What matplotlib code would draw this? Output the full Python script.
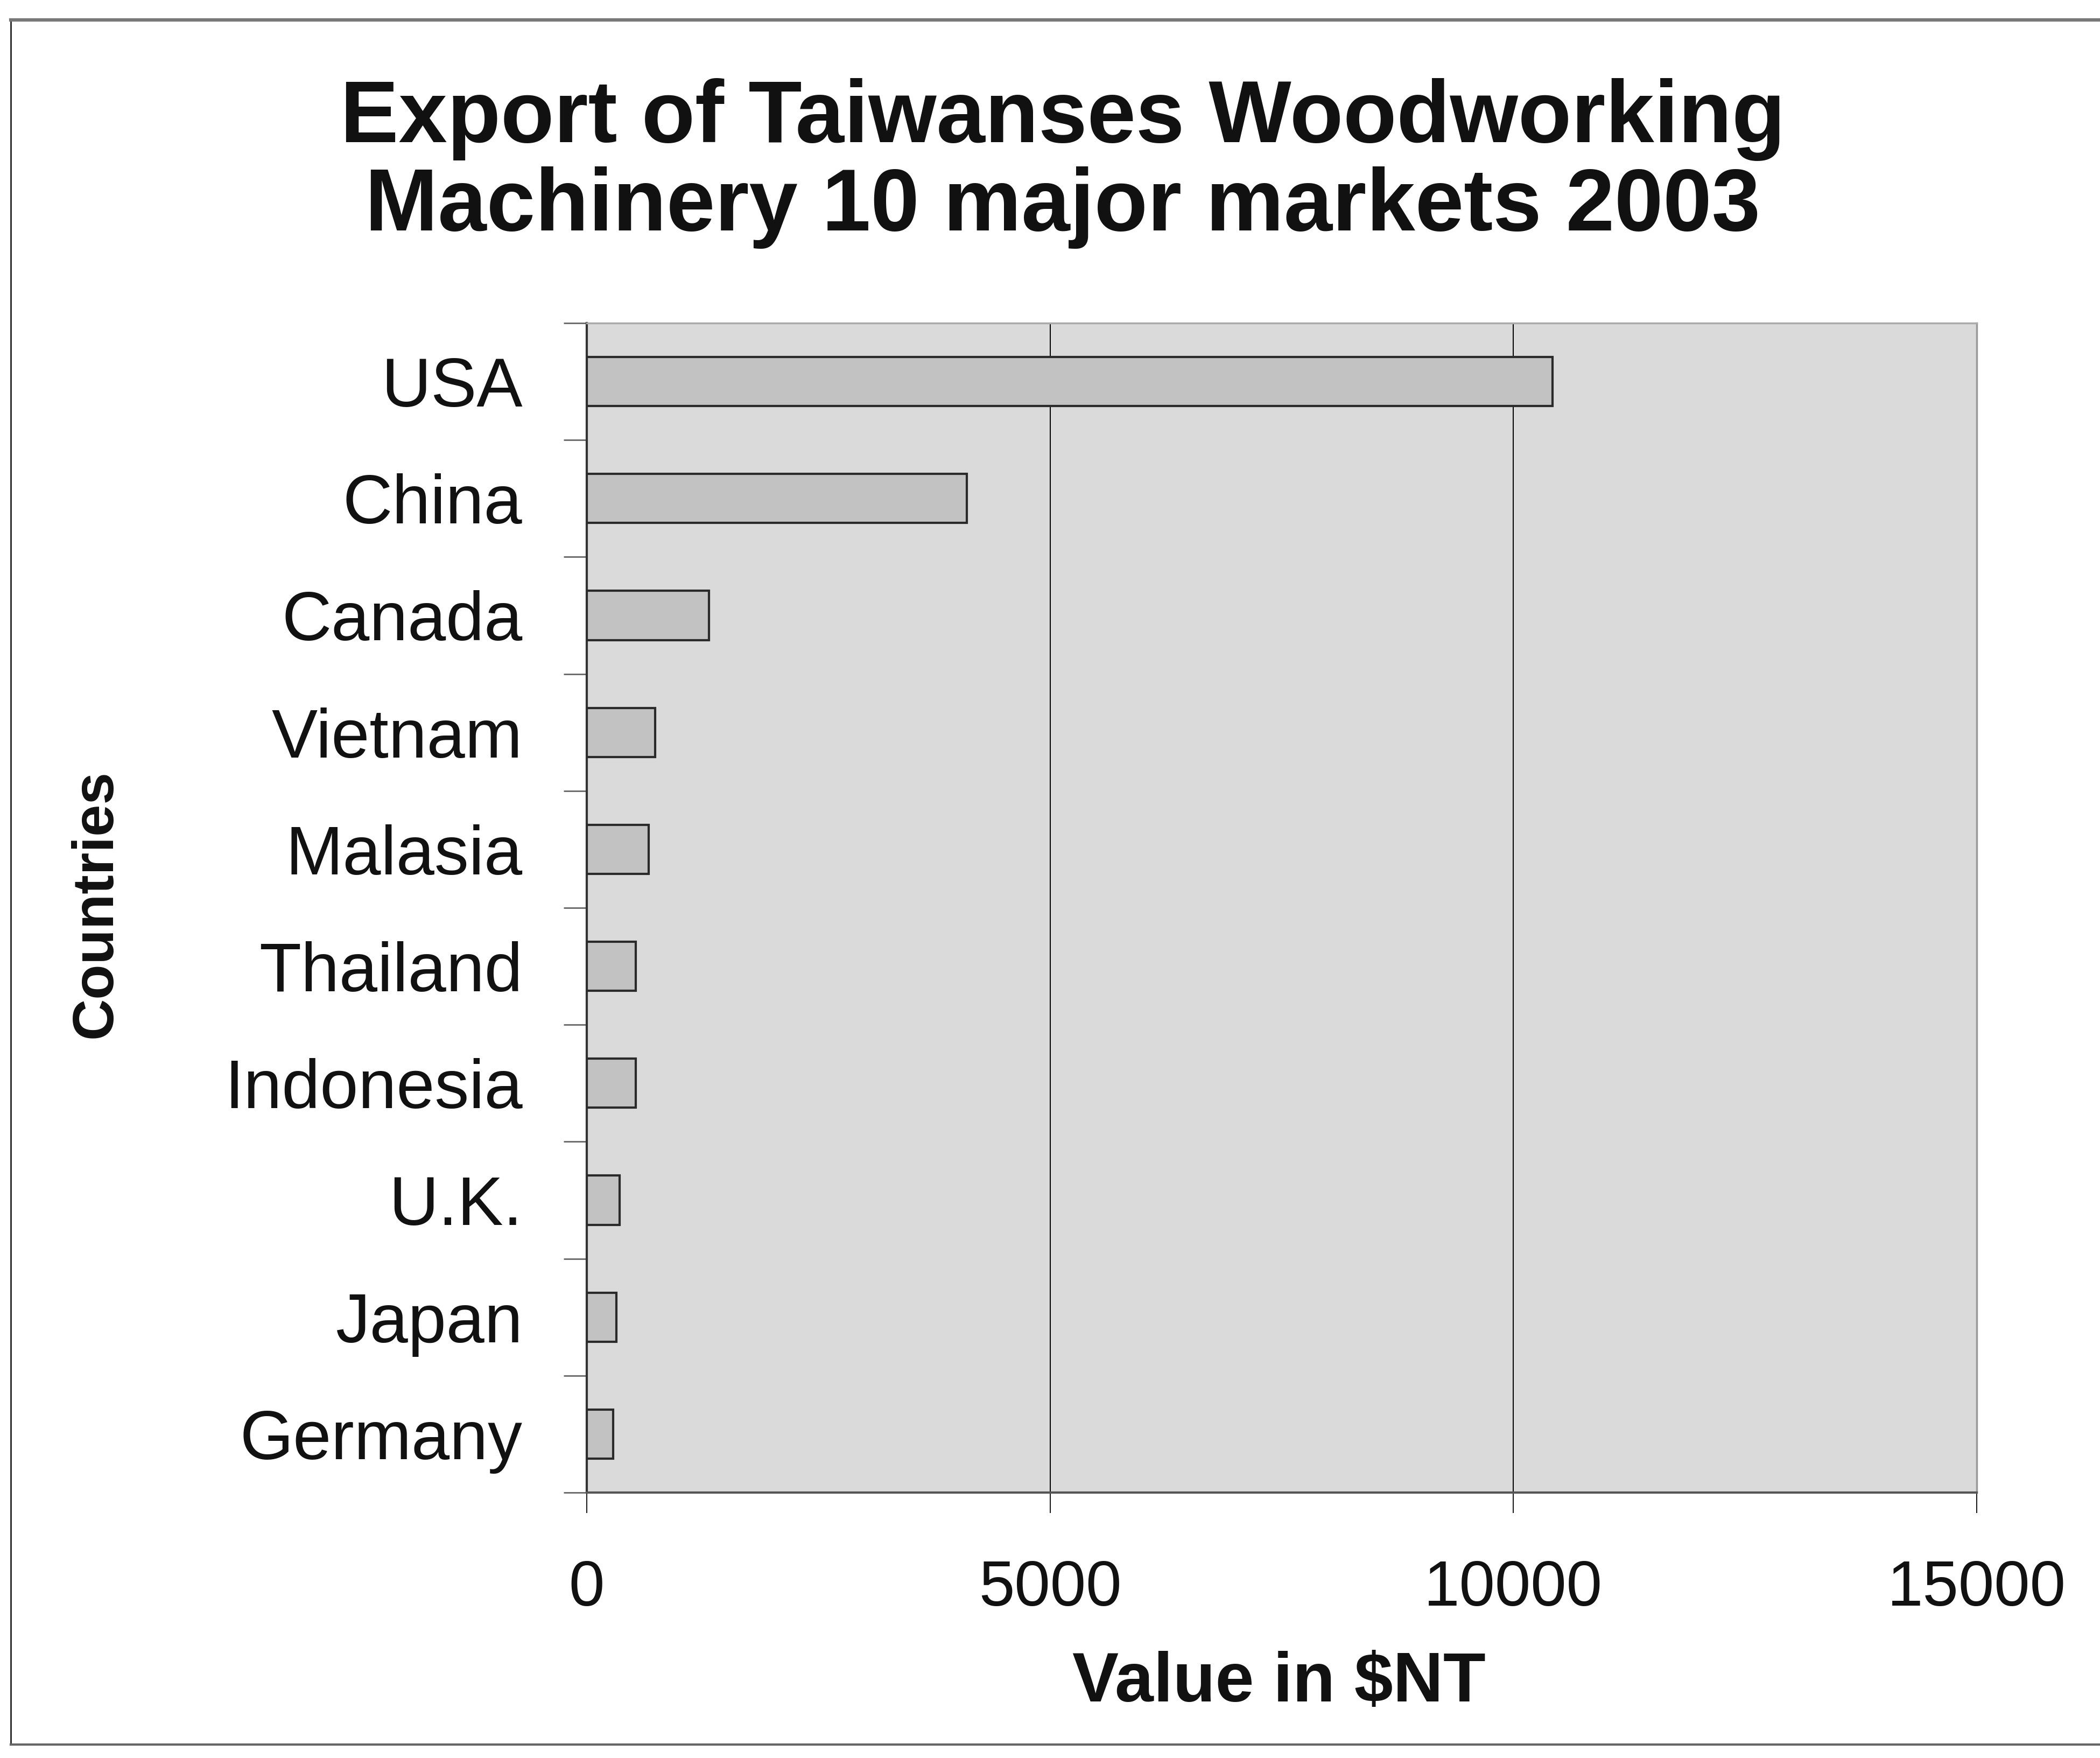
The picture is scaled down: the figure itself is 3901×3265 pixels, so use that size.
import matplotlib
matplotlib.use("Agg")
import matplotlib.pyplot as plt
from matplotlib.lines import Line2D
import numpy as np

countries = ["USA", "China", "Canada", "Vietnam", "Malasia", "Thailand",
             "Indonesia", "U.K.", "Japan", "Germany"]
values = [10420, 4100, 1320, 737, 668, 529, 529, 355, 320, 287]
xticks = [0, 5000, 10000, 15000]
xtick_labels = ["0", "5000", "10000", "15000"]
title_lines = ["Export of Taiwanses Woodworking", "Machinery 10 major markets 2003"]
xlabel = "Value in $NT"
ylabel = "Countries"

plt.rcParams['font.family'] = ['Liberation Sans', 'DejaVu Sans']

W, H = 3901, 3265
fig = plt.figure(figsize=(W / 100, H / 100), dpi=100, facecolor="white")

ax_l, ax_r = 1090 / W, 3672 / W
ax_t, ax_b = 1 - 600 / H, 1 - 2772 / H
ax = fig.add_axes([ax_l, ax_b, ax_r - ax_l, ax_t - ax_b])
ax.set_facecolor("#dadada")

ypos = np.arange(len(countries))
ax.barh(ypos, values, height=0.42, color="#c2c2c2", edgecolor="#2a2a2a",
        linewidth=3.0, zorder=3)

ax.set_xlim(0, 15000)
ax.set_ylim(len(countries) - 0.5, -0.5)

ax.set_xticks(xticks)
ax.set_xticklabels(xtick_labels)
ax.xaxis.grid(True, color="black", linewidth=1.4, zorder=1)
ax.set_axisbelow(True)
ax.tick_params(axis="x", direction="out", length=27, width=1.3, color="black",
               pad=62, labelsize=86, labelcolor="#111111")

ax.set_yticks(ypos)
ax.set_yticklabels(countries)
ax.set_yticks(np.arange(-0.5, len(countries) + 0.5, 1), minor=True)
ax.tick_params(axis="y", which="major", length=0, pad=86, labelsize=92,
               labelcolor="#111111")
ax.tick_params(axis="y", which="minor", direction="out", length=31, width=2.0,
               color="#666666")

ax.spines["left"].set_color("#333333")
ax.spines["left"].set_linewidth(3.0)
ax.spines["bottom"].set_color("#555555")
ax.spines["bottom"].set_linewidth(3.0)
ax.spines["top"].set_color("#aaaaaa")
ax.spines["top"].set_linewidth(2.5)
ax.spines["right"].set_color("#999999")
ax.spines["right"].set_linewidth(2.5)

# Title (two lines)
fig.text(0.506, 1 - 264 / H, title_lines[0], ha="center", va="baseline",
         fontsize=117, fontweight="bold", color="#111111")
fig.text(0.506, 1 - 428 / H, title_lines[1], ha="center", va="baseline",
         fontsize=117, fontweight="bold", color="#111111")

# Axis labels
fig.text(2376 / W, 1 - 3160 / H, xlabel, ha="center", va="baseline",
         fontsize=93, fontweight="bold", color="#111111")
fig.text(179 / W, 1 - 1679 / H, ylabel, ha="center", va="center",
         rotation=90, fontsize=77, fontweight="bold", color="#111111")

# Chart frame
fig.add_artist(Line2D([20 / W, 20 / W], [1 - 37 / H, 1 - 3240 / H],
                      transform=fig.transFigure, color="#333333", linewidth=2.2))
fig.add_artist(Line2D([20 / W, 1.0], [1 - 37 / H, 1 - 37 / H],
                      transform=fig.transFigure, color="#777777", linewidth=4.5))
fig.add_artist(Line2D([20 / W, 1.0], [1 - 3240 / H, 1 - 3240 / H],
                      transform=fig.transFigure, color="#666666", linewidth=3.0))

fig.savefig("out.png", dpi=100, facecolor="white")
